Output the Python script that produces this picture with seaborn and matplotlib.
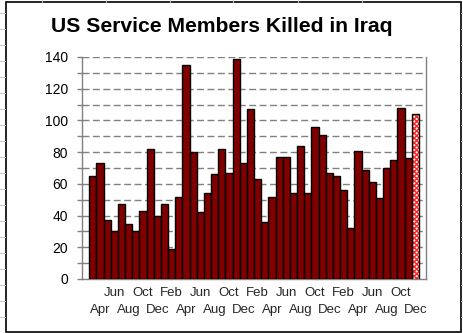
import matplotlib
matplotlib.use("Agg")
import matplotlib.pyplot as plt
from matplotlib.lines import Line2D
from matplotlib.patches import Rectangle
import seaborn as sns
import pandas as pd
import numpy as np

# Monthly values, Mar 2003 .. Dec 2006 (last month partial)
months = ["Mar", "Apr", "May", "Jun", "Jul", "Aug", "Sep", "Oct", "Nov", "Dec",
          "Jan", "Feb", "Mar", "Apr", "May", "Jun", "Jul", "Aug", "Sep", "Oct", "Nov", "Dec",
          "Jan", "Feb", "Mar", "Apr", "May", "Jun", "Jul", "Aug", "Sep", "Oct", "Nov", "Dec",
          "Jan", "Feb", "Mar", "Apr", "May", "Jun", "Jul", "Aug", "Sep", "Oct", "Nov", "Dec"]
killed = [65, 73, 37, 30, 47, 35, 30, 43, 82, 40,
          47, 19, 52, 135, 80, 42, 54, 66, 82, 67, 139, 73,
          107, 63, 36, 52, 77, 77, 54, 84, 54, 96, 91, 67,
          65, 56, 32, 81, 69, 61, 51, 70, 75, 108, 76, 104]
title = "US Service Members Killed in Iraq"

sns.set_theme(style="white")
plt.rcParams["font.family"] = ["Liberation Sans", "DejaVu Sans"]

df = pd.DataFrame({"idx": np.arange(len(killed)), "killed": killed})

fig = plt.figure(figsize=(4.63, 3.33), dpi=100)
fig.patch.set_facecolor("white")
ax = fig.add_axes([82/463, 1-279/333, (426-82)/463, (279-57)/333])

sns.barplot(data=df, x="idx", y="killed", ax=ax, color="#800000", saturation=1,
            width=1.0, edgecolor="black", linewidth=1.0, native_scale=True, zorder=3)

# last (partial) month drawn hatched
last = ax.patches[-1]
last.set_facecolor("white")
last.set_edgecolor("#ff2020")
last.set_hatch("xxxxxxx")
last.set_linewidth(0)
ax.bar(df["idx"].iloc[-1], df["killed"].iloc[-1], width=1.0, fill=False,
       edgecolor="black", linewidth=1.0, zorder=4)

ax.set_xlim(-1.5, len(killed) + 0.5)
ax.set_ylim(0, 140)
ax.set_xlabel("")
ax.set_ylabel("")

# grid
for v in range(10, 141, 10):
    ax.axhline(v, color="#808080", linestyle=(0, (5, 2.5)), linewidth=1.0, zorder=1)

# y ticks
ax.set_yticks(range(0, 141, 20))
ax.set_yticks(range(10, 141, 20), minor=True)
ax.tick_params(axis="y", which="both", length=3.5, width=1, color="#808080",
               direction="out", left=True, pad=6.5, labelsize=10, labelcolor="black")

# x tick labels in two rows
top_pos = [i for i in range(len(months)) if i % 4 == 3]
bot_pos = [i for i in range(len(months)) if i % 4 == 1]
ax.set_xticks(top_pos)
ax.set_xticklabels([months[i] for i in top_pos])
ax.set_xticks(bot_pos, minor=True)
ax.set_xticklabels([months[i] for i in bot_pos], minor=True)
ax.tick_params(axis="x", which="major", length=0, pad=6, labelsize=9.5)
ax.tick_params(axis="x", which="minor", length=0, pad=18, labelsize=9.5)

for s in ["left", "bottom", "right"]:
    ax.spines[s].set_visible(True)
    ax.spines[s].set_color("#808080")
    ax.spines[s].set_linewidth(1.0)
ax.spines["top"].set_visible(False)

fig.text(222/463, 1-27/333, title, ha="center", va="center",
         fontsize=15.2, fontweight="bold", color="black")

# faint spreadsheet grid in the margins
for y in np.arange(13.3, 333, 16):
    fig.add_artist(Line2D([0, 5/463], [1-y/333]*2, color="#c8c8c8", lw=0.8,
                          transform=fig.transFigure))
    fig.add_artist(Line2D([461/463, 1], [1-y/333]*2, color="#c8c8c8", lw=0.8,
                          transform=fig.transFigure))
for x in [42, 106, 170, 233, 298, 362]:
    fig.add_artist(Line2D([x/463]*2, [1, 1-2/333], color="#c8c8c8", lw=0.8,
                          transform=fig.transFigure))

# outer chart frame
fig.add_artist(Rectangle((5.5/463, 1-332/333), (455.5)/463, (330)/333,
                         transform=fig.transFigure, fill=False,
                         edgecolor="black", linewidth=1.2))

fig.savefig("out.png", dpi=100, facecolor="white")
